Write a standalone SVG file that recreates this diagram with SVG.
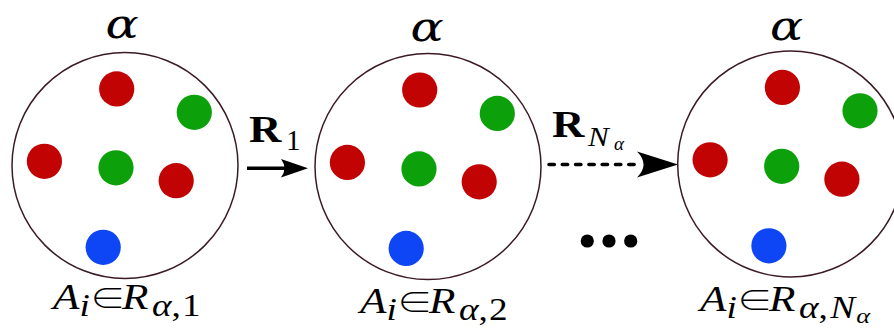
<svg xmlns="http://www.w3.org/2000/svg" xmlns:xlink="http://www.w3.org/1999/xlink" width="894" height="329" viewBox="0 0 894 329">
<style>
.ring{fill:#fff;stroke:#3b1a26;stroke-width:1.5}
.red{fill:#c10303}
.green{fill:#0ca10a}
.blue{fill:#0e45f4}
.m{font-family:"Liberation Serif","DejaVu Serif",serif;font-style:italic;fill:#000}
.rm{font-family:"Liberation Serif","DejaVu Serif",serif;font-style:normal}
.ga{font-family:"DejaVu Serif","Liberation Serif",serif;font-style:italic}
.in{font-family:"Noto Sans CJK JP","DejaVu Sans",sans-serif;font-weight:300;font-style:normal;font-size:30px}
.bf{font-family:"Liberation Serif","DejaVu Serif",serif;font-weight:bold;fill:#000}
.big{font-size:36px}
.sub{font-size:31px}
.gsub{font-size:31px}
.alpha{font-size:41px;fill:#000}
.conn{stroke:#000;stroke-width:3.6;fill:none}
</style>
<defs>
<g id="set">
<circle class="ring" cx="0" cy="0" r="113"/>
<circle class="red" cx="-8.3" cy="-76.6" r="17.6"/>
<circle class="green" cx="69.3" cy="-53.2" r="17.6"/>
<circle class="red" cx="-80.6" cy="-4.2" r="17.6"/>
<circle class="green" cx="-9" cy="2.3" r="17.6"/>
<circle class="red" cx="51.2" cy="15.2" r="17.6"/>
<circle class="blue" cx="-21.8" cy="81.8" r="17.6"/>
</g>
</defs>
<g id="node1">
<use xlink:href="#set" href="#set" x="125" y="165.5"/>
<text class="ga alpha" transform="translate(122,38) scale(1.2,1)" text-anchor="middle">α</text>
<text class="m big" transform="translate(53,309) scale(1.2,1)">A<tspan class="sub" dy="7">i</tspan><tspan class="in" dy="-7" dx="0">∈</tspan><tspan dx="-3">R</tspan><tspan class="gsub" dy="7" dx="3">α</tspan><tspan class="rm sub" dx="0">,</tspan><tspan class="rm sub" dx="1">1</tspan></text>
</g>
<g id="node2">
<use xlink:href="#set" href="#set" x="428" y="166.6"/>
<text class="ga alpha" transform="translate(427,41) scale(1.2,1)" text-anchor="middle">α</text>
<text class="m big" transform="translate(360,313) scale(1.2,1)">A<tspan class="sub" dy="7">i</tspan><tspan class="in" dy="-7" dx="0">∈</tspan><tspan dx="-3">R</tspan><tspan class="gsub" dy="7" dx="3">α</tspan><tspan class="rm sub" dx="0">,</tspan><tspan class="rm sub" dx="1">2</tspan></text>
</g>
<g id="node3">
<use xlink:href="#set" href="#set" x="790.7" y="164"/>
<text class="ga alpha" transform="translate(786.5,39.5) scale(1.2,1)" text-anchor="middle">α</text>
<text class="m big" transform="translate(700,311) scale(1.2,1)">A<tspan class="sub" dy="7">i</tspan><tspan class="in" dy="-7" dx="0">∈</tspan><tspan dx="-3">R</tspan><tspan class="gsub" dy="7" dx="3">α</tspan><tspan class="rm sub" dx="0">,</tspan><tspan class="sub" dx="2">N</tspan><tspan dy="5" dx="1" style="font-size:22px">α</tspan></text>
</g>
<g id="connectors">
<line class="conn" x1="247" y1="168.3" x2="288" y2="168.3"/>
<path d="M308,168.3 L281,159 Q288,168.3 281,177.6 Z" fill="#000"/>
<line class="conn" x1="549" y1="164.5" x2="642" y2="164.5" stroke-linecap="round" stroke-dasharray="5.3 8"/>
<path d="M678,164.5 L637,151.5 Q650,164.5 637,177.5 Z" fill="#000"/>
<text class="bf" transform="translate(249,142) scale(1.15,1)" style="font-size:39px">R</text>
<text class="rm" x="286" y="150" style="font-size:29px">1</text>
<text class="bf" transform="translate(552,137) scale(1.15,1)" style="font-size:39px">R</text>
<text class="m" transform="translate(588,146) scale(1.15,1)" style="font-size:27px">N</text>
<text class="m" x="614" y="150" style="font-size:19px">α</text>
<circle cx="587.3" cy="241" r="6.6" fill="#000"/>
<circle cx="609" cy="241" r="6.6" fill="#000"/>
<circle cx="630.7" cy="241" r="6.6" fill="#000"/>
</g>
</svg>
